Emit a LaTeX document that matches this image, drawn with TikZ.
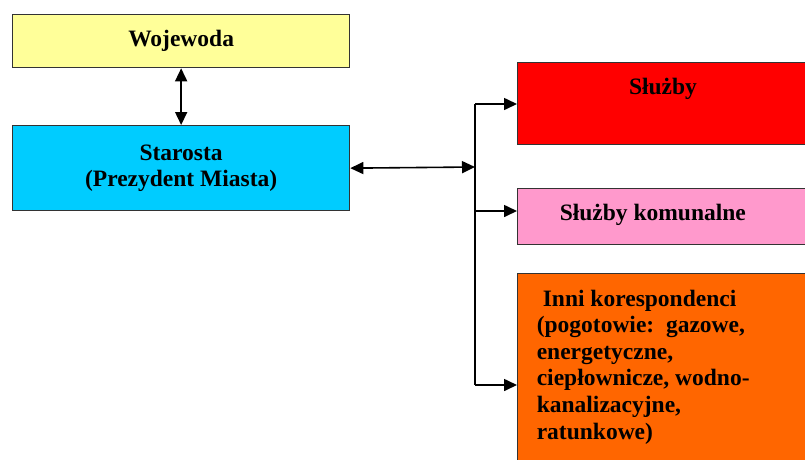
\documentclass[tikz,border=0pt]{standalone}
\usepackage{fontspec}
\setmainfont{Liberation Serif}
\usetikzlibrary{arrows.meta,positioning}

\definecolor{wojYellow}{HTML}{FFFF99}
\definecolor{starCyan}{HTML}{00CCFF}
\definecolor{sluzRed}{HTML}{FF0000}
\definecolor{komPink}{HTML}{FF99CC}
\definecolor{inniOrange}{HTML}{FF6600}
\definecolor{boxLine}{HTML}{333333}

\begin{document}
\begin{tikzpicture}[x=1pt,y=-1pt,>={Triangle[length=13pt,width=12pt]},line width=1.6pt,
    font=\fontsize{23.5}{26.6}\selectfont\bfseries]
  \tikzstyle{every node}=[inner sep=0pt]
  \tikzstyle{box}=[draw=boxLine,line width=1.3pt,anchor=north west]
  \useasboundingbox (0,0) rectangle (805,459);

  \node[box,fill=wojYellow,minimum width=337pt,minimum height=53pt]  (W)  at (12,14)  {Wojewoda};
  \node[box,fill=starCyan,minimum width=337pt,minimum height=85pt,align=center]
                                                                      (S)  at (12,125) {Starosta\\(Prezydent Miasta)};
  \node[box,fill=sluzRed,minimum width=295pt,minimum height=82pt]    (SL) at (517,62)  {};
  \node[box,fill=komPink,minimum width=295pt,minimum height=56pt]    (SK) at (517,188) {};
  \node[box,fill=inniOrange,minimum width=295pt,minimum height=200pt] (IK) at (517,273) {};

  % texts of the right-hand boxes
  \node[anchor=base]      (tSL) at (663,94)  {Służby};
  \node[anchor=base west] (tSK) at (559,220) {Służby komunalne};
  \node[anchor=north west,align=left] (tIK) at (536,289)
    {\hspace*{6pt}Inni korespondenci\\(pogotowie:\ \ gazowe,\\energetyczne,\\ciepłownicze, wodno-\\kanalizacyjne,\\ratunkowe)};

  \coordinate (J)  at (475,167);
  \coordinate (J1) at (475,104);
  \coordinate (J2) at (475,211);
  \coordinate (J3) at (475,385);

  \path (W.south)  edge[<->]  (S.north)
        (S.east)   edge[<->]  (J)
        (J1)       edge       (J3)
        (J1)       edge[->]   (J1 -| SL.west)
        (J2)       edge[->]   (J2 -| SK.west)
        (J3)       edge[->]   (J3 -| IK.west);
\end{tikzpicture}
\end{document}
